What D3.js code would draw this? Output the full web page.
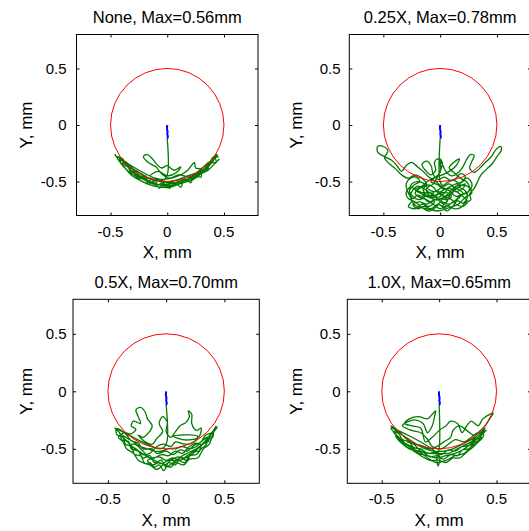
<!DOCTYPE html>
<html><head><meta charset="utf-8">
<script src="https://cdn.jsdelivr.net/npm/d3@7"></script>
<style>
body{margin:0;background:#fff}
svg{display:block}
text{font-family:"Liberation Sans",Arial,Helvetica,sans-serif;fill:#000}
</style>
</head><body>
<svg id="c" width="529" height="531"></svg>
<script>
// ---------- data ----------
const titles = ["None, Max=0.56mm", "0.25X, Max=0.78mm", "0.5X, Max=0.70mm", "1.0X, Max=0.65mm"];
const xTicks = [-0.5, 0, 0.5];
const yTicks = [-0.5, 0, 0.5];
const tickLabels = ["-0.5", "0", "0.5"];
const xLabel = "X, mm";
const yLabel = "Y, mm";
const limits = [-0.8, 0.8];
const circleRadius = 0.5;

const blue1 = [[0,0],[-0.003,-0.03],[0.003,-0.06],[0,-0.08],[0.005,-0.1],[0.002,-0.12]];
const blue2 = [[0,0],[-0.002,-0.03],[0.004,-0.06],[0.001,-0.08],[0.006,-0.1],[0.003,-0.12]];
const blue3 = [[0,0],[-0.003,-0.03],[0.003,-0.06],[0,-0.08],[0.005,-0.1],[0.002,-0.12]];
const blue4 = [[0,0],[-0.002,-0.03],[0.004,-0.06],[0.001,-0.08],[0.006,-0.1],[0.003,-0.12]];

const green1 = [[0,-0.12],[0,-0.44],[-0.04,-0.49],
[-0.44,-0.28],[-0.41,-0.29],[-0.41,-0.34],[-0.35,-0.35],[-0.33,-0.40],[-0.29,-0.41],[-0.27,-0.47],[-0.21,-0.45],[-0.18,-0.50],[-0.13,-0.48],[-0.10,-0.54],[-0.04,-0.51],[0,-0.55],[0.04,-0.50],[0.09,-0.53],[0.13,-0.48],[0.18,-0.50],[0.21,-0.44],[0.27,-0.46],[0.29,-0.41],[0.33,-0.40],[0.35,-0.35],[0.40,-0.33],[0.41,-0.29],[0.45,-0.28],
[0.42,-0.27],[0.43,-0.33],[0.36,-0.33],[0.36,-0.39],[0.30,-0.40],[0.30,-0.46],[0.23,-0.44],[0.21,-0.51],[0.15,-0.48],[0.12,-0.55],[0.07,-0.51],[0.02,-0.56],[-0.02,-0.50],[-0.07,-0.56],[-0.11,-0.49],[-0.17,-0.52],[-0.19,-0.45],[-0.25,-0.48],[-0.26,-0.41],[-0.32,-0.42],[-0.33,-0.36],[-0.39,-0.36],[-0.39,-0.30],[-0.45,-0.28],
[-0.46,-0.26],[-0.43,-0.31],[-0.38,-0.37],[-0.32,-0.44],[-0.24,-0.49],[-0.15,-0.53],[-0.06,-0.55],[0.03,-0.55],[0.11,-0.52],[0.2,-0.49],[0.27,-0.44],[0.34,-0.39],[0.4,-0.32],[0.44,-0.26],
[0.4,-0.29],[0.35,-0.37],[0.28,-0.42],[0.2,-0.46],[0.1,-0.44],[0.02,-0.47],[-0.05,-0.43],[-0.1,-0.37],[-0.17,-0.33],[-0.21,-0.28],[-0.18,-0.26],[-0.13,-0.3],[-0.09,-0.35],[-0.05,-0.38],[0.0,-0.36],[0.06,-0.4],[0.12,-0.37],[0.08,-0.42],[0.0,-0.45],[-0.08,-0.41],[-0.15,-0.45],[-0.06,-0.48],[0.04,-0.47],[0.12,-0.44],[0.18,-0.4],[0.22,-0.35],[0.24,-0.33],[0.25,-0.38],[0.3,-0.39],[0.27,-0.44],
[0.2,-0.47],[0.14,-0.51],[0.06,-0.53],[-0.02,-0.54],[-0.1,-0.52],[-0.18,-0.49],[-0.26,-0.45],[-0.32,-0.4],[-0.37,-0.34],[-0.42,-0.3],[-0.4,-0.35],[-0.34,-0.41],[-0.28,-0.45],[-0.21,-0.48],[-0.13,-0.52],[-0.05,-0.53],[0.03,-0.52],[0.1,-0.5],[0.17,-0.48],[0.24,-0.46],[0.31,-0.42],[0.37,-0.36],[0.41,-0.31],[0.38,-0.32],[0.32,-0.37],[0.26,-0.42],[0.18,-0.45],[0.1,-0.48],[0.02,-0.5],[-0.06,-0.5],[-0.14,-0.48],[-0.22,-0.46],[-0.29,-0.42],[-0.35,-0.37],[-0.4,-0.31],[-0.36,-0.33],[-0.3,-0.39],[-0.23,-0.43],[-0.16,-0.47],[-0.08,-0.49],[0.0,-0.51],[0.08,-0.51],[0.16,-0.5],[0.23,-0.48],[0.3,-0.43],[0.36,-0.4],[0.42,-0.34],[0.46,-0.3]];

const green2 = [[0,-0.12],[0,-0.5],
[0.03,-0.54],[0.08,-0.52],[0.12,-0.56],[0.1,-0.61],[0.04,-0.63],[-0.02,-0.6],[-0.06,-0.55],[-0.11,-0.53],[-0.15,-0.57],[-0.13,-0.62],[-0.18,-0.66],[-0.24,-0.63],[-0.27,-0.58],[-0.23,-0.53],[-0.18,-0.5],[-0.21,-0.46],[-0.26,-0.47],[-0.3,-0.52],[-0.29,-0.58],[-0.25,-0.67],[-0.28,-0.72],[-0.22,-0.74],[-0.16,-0.7],[-0.1,-0.72],[-0.05,-0.68],[-0.08,-0.63],[-0.03,-0.58],[0.02,-0.62],[0.06,-0.67],[0.02,-0.72],[0.06,-0.76],[0.11,-0.72],[0.15,-0.67],[0.2,-0.69],[0.24,-0.64],[0.22,-0.58],[0.17,-0.55],[0.19,-0.5],[0.24,-0.47],[0.28,-0.52],[0.26,-0.58],[0.2,-0.61],[0.14,-0.63],[0.08,-0.58],[0.02,-0.55],[-0.04,-0.5],[-0.1,-0.46],[-0.15,-0.41],[-0.2,-0.37],[-0.25,-0.33],[-0.3,-0.36],[-0.34,-0.41],[-0.38,-0.36],[-0.43,-0.31],[-0.49,-0.28],[-0.55,-0.24],[-0.55,-0.19],[-0.5,-0.19],[-0.46,-0.23],[-0.49,-0.29],[-0.45,-0.34],[-0.4,-0.38],[-0.34,-0.44],[-0.28,-0.47],[-0.22,-0.44],[-0.16,-0.47],[-0.12,-0.52],[-0.18,-0.56],[-0.22,-0.6],[-0.18,-0.64],[-0.12,-0.66],[-0.06,-0.7],[0.0,-0.74],[0.06,-0.71],[0.12,-0.74],[0.18,-0.73],[0.22,-0.69],[0.27,-0.66],[0.26,-0.61],[0.3,-0.56],[0.33,-0.5],[0.36,-0.44],[0.41,-0.39],[0.46,-0.34],[0.5,-0.28],[0.54,-0.22],[0.53,-0.19],[0.49,-0.22],[0.45,-0.28],[0.4,-0.33],[0.35,-0.38],[0.3,-0.42],[0.26,-0.38],[0.28,-0.32],[0.3,-0.27],[0.27,-0.26],[0.23,-0.31],[0.2,-0.37],[0.16,-0.42],[0.1,-0.45],[0.05,-0.41],[0.02,-0.35],[-0.02,-0.3],[-0.05,-0.33],[-0.04,-0.4],[-0.08,-0.44],[-0.13,-0.4],[-0.16,-0.35],[-0.12,-0.32],[-0.08,-0.36],[-0.06,-0.44],[-0.02,-0.48],[0.04,-0.46],[0.09,-0.49],[0.14,-0.47],[0.18,-0.43],[0.22,-0.45],[0.2,-0.5],[0.14,-0.52],[0.08,-0.55],[0.04,-0.6],[-0.02,-0.64],[-0.08,-0.6],[-0.14,-0.6],[-0.2,-0.58],[-0.26,-0.55],[-0.3,-0.6],[-0.28,-0.65],[-0.22,-0.68],[-0.16,-0.73],[-0.1,-0.76],[-0.04,-0.73],[0.0,-0.68],[0.04,-0.64],[0.1,-0.66],[0.14,-0.7],[0.2,-0.72],[0.24,-0.68],[0.2,-0.63],[0.16,-0.6],[0.12,-0.57],[0.16,-0.52],[0.12,-0.49],[0.06,-0.51],[0.0,-0.56],[-0.05,-0.59],[-0.1,-0.57],[-0.14,-0.52],[-0.2,-0.5],[-0.25,-0.52],[-0.27,-0.6],[-0.24,-0.65],[-0.2,-0.62],[-0.15,-0.64],[-0.1,-0.68],[-0.04,-0.66],[0.02,-0.68],[0.08,-0.7],[0.14,-0.66],[0.18,-0.62],[0.24,-0.6],[0.26,-0.55],[0.23,-0.5],[0.18,-0.47],[0.12,-0.42],[0.08,-0.38],[0.12,-0.33],[0.17,-0.3],[0.14,-0.36],[0.08,-0.41],[0.02,-0.44],[-0.04,-0.46],[-0.1,-0.49],[-0.16,-0.54],[-0.22,-0.57],[-0.18,-0.6],[-0.12,-0.62],[-0.06,-0.64],[0.0,-0.6],[0.06,-0.6],[0.1,-0.63],[0.06,-0.66],[0.0,-0.65],[-0.06,-0.67],[-0.12,-0.7],[-0.18,-0.68],[-0.24,-0.7],[-0.2,-0.74],[-0.14,-0.72],[-0.08,-0.74],[-0.02,-0.7],[0.04,-0.73],[0.1,-0.69],[0.16,-0.65],[0.2,-0.6],[0.16,-0.57],[0.1,-0.54],[0.04,-0.57],[-0.02,-0.53],[-0.08,-0.5],[-0.04,-0.46],[0.0,-0.42],[0.0,-0.3],[0.02,-0.34],[-0.02,-0.45],[-0.06,-0.52],[-0.12,-0.56],[-0.1,-0.62],[-0.04,-0.62],[0.02,-0.58],[0.08,-0.56],[0.14,-0.59],[0.2,-0.56],[0.22,-0.52],[0.18,-0.54],[0.1,-0.6],[0.04,-0.7],[-0.04,-0.64],[-0.12,-0.58],[-0.2,-0.54],[-0.26,-0.62],[-0.22,-0.71],[-0.12,-0.74],[-0.02,-0.76],[0.08,-0.73],[0.16,-0.7],[0.22,-0.64],[0.28,-0.6],[0.24,-0.54],[0.14,-0.54],[0.06,-0.62],[-0.02,-0.66],[-0.1,-0.64],[-0.16,-0.62]];

const green3 = [[0,-0.12],[0,-0.46],[-0.05,-0.5],
[-0.44,-0.32],[-0.4,-0.36],[-0.38,-0.42],[-0.32,-0.44],[-0.3,-0.5],[-0.24,-0.52],[-0.2,-0.58],[-0.14,-0.56],[-0.1,-0.62],[-0.04,-0.6],[0.0,-0.66],[0.06,-0.62],[0.1,-0.6],[0.16,-0.62],[0.2,-0.56],[0.26,-0.55],[0.3,-0.5],[0.34,-0.47],[0.36,-0.42],[0.4,-0.4],[0.41,-0.35],[0.44,-0.31],
[0.42,-0.34],[0.38,-0.38],[0.36,-0.44],[0.31,-0.46],[0.28,-0.52],[0.22,-0.53],[0.18,-0.6],[0.12,-0.58],[0.08,-0.64],[0.02,-0.62],[-0.02,-0.69],[-0.06,-0.64],[-0.1,-0.66],[-0.14,-0.62],[-0.18,-0.63],[-0.22,-0.56],[-0.27,-0.55],[-0.3,-0.48],[-0.35,-0.46],[-0.37,-0.4],[-0.42,-0.38],[-0.43,-0.33],
[-0.4,-0.33],[-0.34,-0.38],[-0.3,-0.43],[-0.24,-0.45],[-0.2,-0.5],[-0.12,-0.5],[-0.08,-0.54],[0.0,-0.52],[0.06,-0.55],[0.12,-0.51],[0.18,-0.52],[0.24,-0.47],[0.3,-0.44],[0.34,-0.38],[0.39,-0.36],[0.42,-0.32],
[0.4,-0.37],[0.37,-0.46],[0.32,-0.5],[0.27,-0.58],[0.2,-0.59],[0.15,-0.64],[0.08,-0.62],[0.04,-0.66],[-0.02,-0.64],[-0.08,-0.68],[-0.14,-0.64],[-0.2,-0.62],[-0.24,-0.6],[-0.28,-0.54],[-0.34,-0.5],[-0.37,-0.44],[-0.41,-0.4],
[-0.36,-0.36],[-0.3,-0.37],[-0.26,-0.33],[-0.3,-0.3],[-0.28,-0.26],[-0.22,-0.28],[-0.24,-0.22],[-0.26,-0.16],[-0.22,-0.14],[-0.18,-0.18],[-0.16,-0.24],[-0.12,-0.3],[-0.15,-0.36],[-0.2,-0.4],[-0.24,-0.38],[-0.18,-0.44],[-0.12,-0.46],[-0.08,-0.41],[-0.03,-0.35],[-0.06,-0.28],[-0.03,-0.22],[0.01,-0.27],[0.0,-0.35],[0.04,-0.4],[0.08,-0.35],[0.12,-0.3],[0.17,-0.27],[0.2,-0.22],[0.19,-0.17],[0.22,-0.2],[0.22,-0.28],[0.26,-0.34],[0.3,-0.32],[0.28,-0.4],[0.22,-0.42],[0.14,-0.42],[0.06,-0.39],[0.27,-0.39],[0.24,-0.44],[0.16,-0.46],[0.08,-0.44],[0.04,-0.48],[-0.02,-0.46],[-0.08,-0.48],
[-0.14,-0.54],[-0.2,-0.55],[-0.26,-0.5],[-0.32,-0.47],[-0.27,-0.46],[-0.2,-0.52],[-0.14,-0.58],[-0.06,-0.57],[0.0,-0.6],[0.06,-0.58],[0.12,-0.6],[0.18,-0.56],[0.24,-0.52],[0.3,-0.47],[0.26,-0.45],[0.2,-0.48],[0.14,-0.54],[0.08,-0.52],[0.02,-0.56],[-0.04,-0.55],[-0.1,-0.58],[-0.16,-0.6],[-0.12,-0.64],[-0.06,-0.62],[-0.01,-0.64],[0.04,-0.6],[0.1,-0.57],[0.16,-0.58],[0.22,-0.55],[0.28,-0.49],[0.34,-0.44],[0.38,-0.39],[0.32,-0.42],[0.26,-0.48],[0.2,-0.5],[0.14,-0.48],[0.08,-0.5],[0.02,-0.5],[-0.04,-0.52],[-0.1,-0.52],[-0.16,-0.5],[-0.22,-0.48],[-0.28,-0.44],[-0.33,-0.41],[-0.38,-0.38],
[-0.34,-0.43],[-0.28,-0.49],[-0.22,-0.53],[-0.16,-0.57],[-0.1,-0.6],[-0.04,-0.63],[0.02,-0.6],[0.08,-0.6],[0.14,-0.56],[0.2,-0.53],[0.26,-0.5],[0.32,-0.45],[0.36,-0.4],[0.4,-0.35],[0.43,-0.3]];

const green4 = [[0,-0.12],[0,-0.5],[-0.02,-0.56],[-0.01,-0.65],[0.0,-0.56],
[-0.42,-0.32],[-0.38,-0.37],[-0.34,-0.41],[-0.3,-0.45],[-0.24,-0.48],[-0.2,-0.52],[-0.14,-0.53],[-0.08,-0.57],[-0.02,-0.56],[0.04,-0.59],[0.1,-0.55],[0.16,-0.56],[0.2,-0.51],[0.26,-0.5],[0.3,-0.45],[0.34,-0.43],[0.37,-0.38],[0.41,-0.34],
[0.38,-0.36],[0.34,-0.4],[0.3,-0.42],[0.26,-0.47],[0.2,-0.48],[0.14,-0.52],[0.08,-0.51],[0.02,-0.55],[-0.04,-0.53],[-0.1,-0.54],[-0.16,-0.5],[-0.22,-0.49],[-0.26,-0.44],[-0.32,-0.42],[-0.35,-0.37],[-0.4,-0.35],
[-0.36,-0.4],[-0.3,-0.47],[-0.22,-0.52],[-0.16,-0.56],[-0.08,-0.6],[0.0,-0.6],[0.06,-0.62],[0.12,-0.58],[0.18,-0.58],[0.24,-0.53],[0.3,-0.48],[0.36,-0.42],[0.39,-0.38],
[0.34,-0.36],[0.28,-0.4],[0.22,-0.44],[0.14,-0.42],[0.08,-0.46],[0.02,-0.5],[-0.06,-0.48],[-0.1,-0.42],[-0.16,-0.36],[-0.24,-0.34],[-0.32,-0.3],[-0.26,-0.26],[-0.2,-0.25],[-0.14,-0.28],[-0.1,-0.36],[-0.06,-0.3],[-0.04,-0.22],[-0.03,-0.17],[-0.06,-0.2],[-0.1,-0.24],[-0.18,-0.22],[-0.26,-0.24],[-0.3,-0.28],[-0.24,-0.3],[-0.16,-0.32],[-0.12,-0.44],[-0.06,-0.4],[0.0,-0.34],[0.06,-0.3],[0.1,-0.26],[0.16,-0.28],[0.2,-0.36],[0.24,-0.3],[0.28,-0.26],[0.34,-0.3],[0.38,-0.24],[0.44,-0.2],[0.47,-0.19],[0.44,-0.24],[0.4,-0.3],[0.36,-0.34],[0.3,-0.38],[0.24,-0.34],[0.18,-0.3],[0.12,-0.34],[0.1,-0.4],
[0.04,-0.44],[-0.02,-0.48],[-0.08,-0.5],[-0.16,-0.47],[-0.24,-0.45],[-0.3,-0.4],[-0.36,-0.34],[-0.42,-0.3],[-0.38,-0.34],[-0.32,-0.38],[-0.26,-0.42],[-0.2,-0.46],[-0.12,-0.5],[-0.04,-0.52],[0.04,-0.52],[0.12,-0.5],[0.2,-0.46],[0.28,-0.42],[0.34,-0.38],[0.4,-0.32],
[0.36,-0.38],[0.3,-0.44],[0.22,-0.5],[0.14,-0.54],[0.06,-0.56],[-0.02,-0.58],[-0.1,-0.56],[-0.18,-0.54],[-0.26,-0.48],[-0.32,-0.44],[-0.38,-0.39],[-0.34,-0.44],[-0.26,-0.5],[-0.18,-0.52],[-0.1,-0.58],[-0.02,-0.62],[0.06,-0.6],[0.14,-0.56],[0.22,-0.54],[0.28,-0.48],[0.34,-0.44],[0.38,-0.4],[0.32,-0.42],[0.24,-0.46],[0.16,-0.5],[0.08,-0.54],[0.0,-0.54],[-0.08,-0.54],[-0.16,-0.52],[-0.22,-0.46],[-0.28,-0.44]];

const blues = [blue1, blue2, blue3, blue4];
const greens = [green1, green2, green3, green4];

// ---------- layout (pixel boxes of the four axes) ----------
const boxes = [
  {x0: 76.5, x1: 258, y0: 34.5, y1: 215.5, ytl: 66.5, ylab: 32},
  {x0: 349.3, x1: 531, y0: 34.5, y1: 215.5, ytl: 340.5, ylab: 302},
  {x0: 73, x1: 259.3, y0: 299.3, y1: 483.3, ytl: 66.5, ylab: 32},
  {x0: 347.3, x1: 531, y0: 299.3, y1: 483.3, ytl: 340.5, ylab: 302}
];

const svg = d3.select("#c");
const tickLen = 3;

boxes.forEach((b, i) => {
  const x = d3.scaleLinear().domain(limits).range([b.x0, b.x1]);
  const y = d3.scaleLinear().domain(limits).range([b.y1, b.y0]);
  const g = svg.append("g");

  g.append("text").attr("x", (b.x0 + b.x1) / 2).attr("y", b.y0 - 11.5)
    .attr("text-anchor", "middle").style("font-size", "16.5px").text(titles[i]);

  const line = d3.line().x(d => x(d[0])).y(d => y(d[1])).curve(d3.curveCatmullRom.alpha(0.5));
  const straight = d3.line().x(d => x(d[0])).y(d => y(d[1]));

  g.append("path").attr("d", line(greens[i])).attr("fill", "none")
    .attr("stroke", "#007a00").attr("stroke-width", 1.3).attr("stroke-linejoin", "round");

  g.append("ellipse").attr("cx", x(0)).attr("cy", y(0))
    .attr("rx", x(circleRadius) - x(0)).attr("ry", y(0) - y(circleRadius))
    .attr("fill", "none").attr("stroke", "#ff0000").attr("stroke-width", 1);

  g.append("path").attr("d", straight(blues[i])).attr("fill", "none")
    .attr("stroke", "#0000ff").attr("stroke-width", 2).attr("stroke-linejoin", "round");

  g.append("rect").attr("x", b.x0).attr("y", b.y0)
    .attr("width", b.x1 - b.x0).attr("height", b.y1 - b.y0)
    .attr("fill", "none").attr("stroke", "#000").attr("stroke-width", 1);

  const axB = d3.axisBottom(x).tickValues(xTicks).tickSize(-tickLen).tickFormat("");
  const axT = d3.axisTop(x).tickValues(xTicks).tickSize(-tickLen).tickFormat("");
  const axL = d3.axisLeft(y).tickValues(yTicks).tickSize(-tickLen).tickFormat("");
  const axR = d3.axisRight(y).tickValues(yTicks).tickSize(-tickLen).tickFormat("");
  [[axB, `translate(0,${b.y1})`], [axT, `translate(0,${b.y0})`],
   [axL, `translate(${b.x0},0)`], [axR, `translate(${b.x1},0)`]].forEach(([ax, tr]) => {
    const a = g.append("g").attr("transform", tr).call(ax);
    a.select(".domain").remove();
    a.selectAll("line").attr("stroke", "#000");
  });

  xTicks.forEach((t, k) => {
    g.append("text").attr("x", x(t)).attr("y", b.y1 + 21).attr("text-anchor", "middle")
      .style("font-size", "15px").text(tickLabels[k]);
  });
  yTicks.forEach((t, k) => {
    g.append("text").attr("x", b.ytl).attr("y", y(t)).attr("dy", "0.36em").attr("text-anchor", "end")
      .style("font-size", "15px").text(tickLabels[k]);
  });

  g.append("text").attr("x", (b.x0 + b.x1) / 2).attr("y", b.y1 + 42.5).attr("text-anchor", "middle")
    .style("font-size", "17px").text(xLabel);
  g.append("text").attr("transform", `translate(${b.ylab},${(b.y0 + b.y1) / 2}) rotate(-90)`)
    .attr("text-anchor", "middle").style("font-size", "17px").text(yLabel);
});
</script>
</body></html>
